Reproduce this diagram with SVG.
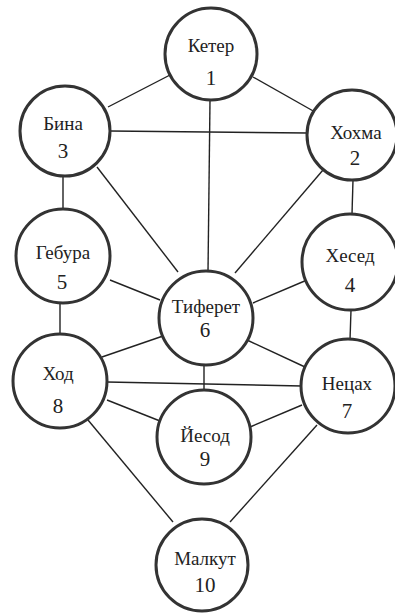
<svg xmlns="http://www.w3.org/2000/svg" width="395" height="613" viewBox="0 0 395 613">
<style>
.bg{fill:#ffffff}
.node circle{fill:#ffffff;stroke:#333333;stroke-width:3}
.edges line{stroke:#222222;stroke-width:1.4;fill:none}
.name{font-family:"Liberation Serif","Times New Roman",serif;font-size:19px;fill:#222222;text-anchor:middle}
.num{font-family:"Liberation Serif","Times New Roman",serif;font-size:21px;fill:#222222;text-anchor:middle}
</style>
<rect class="bg" x="0" y="0" width="395" height="613"/>
<g id="edges" class="edges">
<line x1="108" y1="107" x2="170" y2="75"/>
<line x1="253" y1="77" x2="315" y2="112"/>
<line x1="210" y1="100" x2="208" y2="272"/>
<line x1="110" y1="131" x2="308" y2="133"/>
<line x1="63" y1="176" x2="63" y2="209"/>
<line x1="97" y1="167" x2="178" y2="272"/>
<line x1="323" y1="170" x2="235" y2="273"/>
<line x1="353" y1="180" x2="352" y2="214"/>
<line x1="110" y1="280" x2="160" y2="300"/>
<line x1="307" y1="280" x2="253" y2="303"/>
<line x1="60" y1="303" x2="60" y2="335"/>
<line x1="351" y1="310" x2="350" y2="340"/>
<line x1="102" y1="357" x2="163" y2="336"/>
<line x1="247" y1="340" x2="305" y2="367"/>
<line x1="204" y1="365" x2="204" y2="390"/>
<line x1="107" y1="382" x2="302" y2="386"/>
<line x1="107" y1="400" x2="160" y2="421"/>
<line x1="302" y1="405" x2="250" y2="427"/>
<line x1="88" y1="420" x2="173" y2="522"/>
<line x1="317" y1="425" x2="230" y2="522"/>
</g>
<g id="keter" class="node"><circle cx="211" cy="54" r="46"/><text class="name" x="211" y="52">Кетер</text><text class="num" x="211" y="85">1</text></g>
<g id="hokhma" class="node"><circle cx="352" cy="135" r="45"/><text class="name" x="356" y="139">Хохма</text><text class="num" x="355" y="165">2</text></g>
<g id="bina" class="node"><circle cx="65" cy="131" r="45"/><text class="name" x="63" y="130">Бина</text><text class="num" x="63" y="158">3</text></g>
<g id="hesed" class="node"><circle cx="350" cy="262" r="48"/><text class="name" x="350" y="262">Хесед</text><text class="num" x="350" y="292">4</text></g>
<g id="gevura" class="node"><circle cx="63" cy="256" r="47"/><text class="name" x="63" y="259">Гебура</text><text class="num" x="62" y="289">5</text></g>
<g id="tiferet" class="node"><circle cx="206" cy="318" r="47"/><text class="name" x="206" y="313">Тиферет</text><text class="num" x="205" y="337">6</text></g>
<g id="netzach" class="node"><circle cx="348" cy="386" r="47"/><text class="name" x="347" y="390">Нецах</text><text class="num" x="347" y="418">7</text></g>
<g id="hod" class="node"><circle cx="60" cy="381" r="47"/><text class="name" x="58" y="380">Ход</text><text class="num" x="58" y="413">8</text></g>
<g id="yesod" class="node"><circle cx="204" cy="437" r="47"/><text class="name" x="205" y="442">Йесод</text><text class="num" x="205" y="466">9</text></g>
<g id="malkut" class="node"><circle cx="202" cy="565" r="46"/><text class="name" x="205" y="565">Малкут</text><text class="num" x="205" y="592">10</text></g>
</svg>
